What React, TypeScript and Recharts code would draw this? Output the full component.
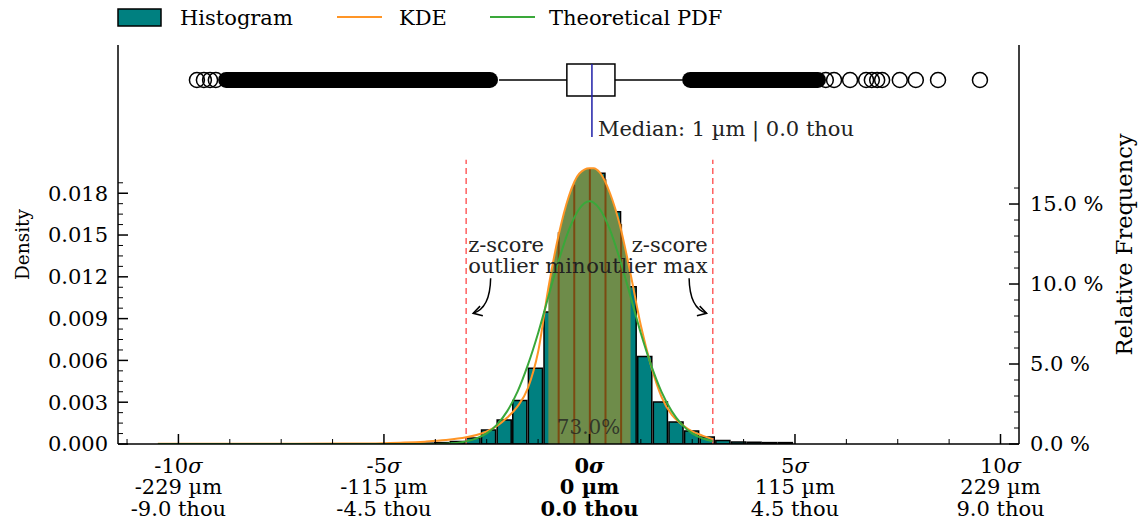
import React from "react";
import {
  ComposedChart,
  Bar,
  Line,
  Area,
  Scatter,
  XAxis,
  YAxis,
  Label,
  ReferenceLine,
  ReferenceArea,
  ReferenceDot,
} from "recharts";

const FONT = '"DejaVu Serif", "Liberation Serif", serif';

// x values are in units of sigma (1 sigma = 22.9 µm)
const binCenters = [
  -4.36, -3.98, -3.6, -3.22, -2.84, -2.46, -2.08, -1.7, -1.32, -0.94, -0.56, -0.18,
  0.2, 0.58, 0.96, 1.34, 1.72, 2.1, 2.48, 2.86, 3.24, 3.62, 4.0, 4.38, 4.76,
];
const binDensity = [
  0.00004, 0.00006, 0.0001, 0.00018, 0.00043, 0.001, 0.00172, 0.00312, 0.00543, 0.00947,
  0.01476, 0.01871, 0.01943, 0.01667, 0.01129, 0.00628, 0.00301, 0.00158, 0.00093, 0.0005,
  0.00025, 0.00014, 0.00012, 0.0001, 0.0001,
];
const binWidthSigma = 0.38;

const curveZ = [
  -10.5, -9, -7.5, -6, -5, -4.5, -4, -3.5, -3, -2.75, -2.5, -2.25, -2, -1.75, -1.5, -1.25,
  -1, -0.75, -0.5, -0.25, 0, 0.1, 0.25, 0.5, 0.75, 1, 1.25, 1.5, 1.75, 2, 2.25, 2.5, 2.75, 3,
];
const kdeDensity = [
  0.00001, 0.00001, 0.00002, 0.00003, 0.00006, 0.0001, 0.00017, 0.00028, 0.00048, 0.00065,
  0.0009, 0.0013, 0.0019, 0.0027, 0.004, 0.0066, 0.0112, 0.015, 0.0178, 0.0194, 0.0198,
  0.0198, 0.0195, 0.018, 0.0156, 0.0122, 0.0085, 0.0056, 0.0034, 0.0021, 0.0014, 0.0009,
  0.0006, 0.00035,
];
const pdfDensity = [
  0, 0, 0, 0, 0, 0, 0.000002, 0.00002, 0.00019, 0.0004, 0.00076, 0.00139, 0.00236, 0.00376,
  0.00566, 0.00795, 0.01057, 0.01315, 0.01537, 0.01687, 0.01742, 0.01733, 0.01687, 0.01537,
  0.01315, 0.01057, 0.00795, 0.00566, 0.00376, 0.00236, 0.00139, 0.00076, 0.0004, 0.00019,
];

// bin edges inside +-1 sigma and where they meet the KDE
const shadeEdgeZ = [-0.75, -0.37, 0.01, 0.39, 0.77];
const shadeEdgeTop = [0.0152, 0.0186, 0.0198, 0.019, 0.0158];
const shadeRange = [-1, 1];
const shadeLabel = "73.0%";

const zScoreLimits = [-3, 3];

// box plot, sigma units
const boxQ1 = -0.55;
const boxQ3 = 0.62;
const medianZ = 0.06;
const whiskerLow = -2.2;
const whiskerHigh = 2.27;
const denseLow = [-8.84, -2.42];
const denseHigh = [2.45, 5.56];
const sparseOutliers = [
  -9.55, -9.38, -9.23, -9.09, 5.75, 5.95, 6.34, 6.73, 6.87, 7.0, 7.12, 7.55, 7.94, 8.48, 9.5,
];
const medianLabel = "Median: 1 µm | 0.0 thou";

const sigmaTicks = [-10, -5, 0, 5, 10];
const micronLabels = ["-229 µm", "-115 µm", "0 µm", "115 µm", "229 µm"];
const thouLabels = ["-9.0 thou", "-4.5 thou", "0.0 thou", "4.5 thou", "9.0 thou"];
const sigmaMinor = [-11.25, -8.75, -7.5, -6.25, -3.75, -2.5, -1.25, 1.25, 2.5, 3.75, 6.25, 7.5, 8.75];

const densityTicks = [0, 0.003, 0.006, 0.009, 0.012, 0.015, 0.018];
const densityMinor = [
  0.00075, 0.0015, 0.00225, 0.00375, 0.0045, 0.00525, 0.00675, 0.0075, 0.00825, 0.00975,
  0.0105, 0.01125, 0.01275, 0.0135, 0.01425, 0.01575, 0.0165, 0.01725, 0.01875,
];
const freqTicks = [0, 5, 10, 15];
const freqMinor = [1, 2, 3, 4, 6, 7, 8, 9, 11, 12, 13, 14, 16];

const X_DOMAIN: [number, number] = [-11.47, 10.45];
const DENSITY_MAX = 0.02864;
const FREQ_MAX = 24.94;

const W = 1142;
const H = 524;
const PLOT_LEFT = 118;
const PLOT_RIGHT = 1019;
const PLOT_TOP = 45;
const PLOT_BOTTOM = 444;

const boxRow = 0.02613;
const boxHalf = 0.00115;
const medianLineBottom = 0.02204;
const limitTop = 0.0204;

const TEAL = "#008080";
const ORANGE = "#ff9526";
const GREEN = "#3aa83a";
const FS = 21;

const binData = binCenters.map((z, i) => ({ z, density: binDensity[i] }));
const curveData = curveZ.map((z, i) => ({ z, kde: kdeDensity[i], pdf: pdfDensity[i] }));
const shadeData = curveData.filter((d) => d.z >= shadeRange[0] && d.z <= shadeRange[1]);
const sparseData = sparseOutliers.map((z) => ({ z, y: boxRow }));
const denseLowData = denseLow.map((z) => ({ z, y: boxRow }));
const denseHighData = denseHigh.map((z) => ({ z, y: boxRow }));

const pxPerSigma = (PLOT_RIGHT - PLOT_LEFT) / (X_DOMAIN[1] - X_DOMAIN[0]);

const near = (list: number[], v: number) => list.findIndex((t) => Math.abs(t - v) < 1e-9);

function SigmaTick({ x, y, payload }: any) {
  const v = payload.value as number;
  const i = near(sigmaTicks, v);
  const major = i >= 0;
  return (
    <g>
      <line x1={x} x2={x} y1={y} y2={y - (major ? 10 : 5)} stroke="#000" strokeWidth={major ? 1.5 : 1} />
      {major && (
        <text
          textAnchor="middle"
          fontFamily={FONT}
          fontSize={FS}
          fill="#000"
          fontWeight={v === 0 ? "bold" : "normal"}
        >
          <tspan x={x} y={y + 29}>
            {v}
            <tspan fontStyle="italic">σ</tspan>
          </tspan>
          <tspan x={x} y={y + 50}>
            {micronLabels[i]}
          </tspan>
          <tspan x={x} y={y + 72}>
            {thouLabels[i]}
          </tspan>
        </text>
      )}
    </g>
  );
}

function DensityTick({ x, y, payload }: any) {
  const v = payload.value as number;
  const major = near(densityTicks, v) >= 0;
  return (
    <g>
      <line x1={x} x2={x + (major ? 10 : 5)} y1={y} y2={y} stroke="#000" strokeWidth={major ? 1.5 : 1} />
      {major && (
        <text x={x - 10} y={y} dy="0.35em" textAnchor="end" fontFamily={FONT} fontSize={FS} fill="#000">
          {v.toFixed(3)}
        </text>
      )}
    </g>
  );
}

function FreqTick({ x, y, payload }: any) {
  const v = payload.value as number;
  const major = near(freqTicks, v) >= 0;
  return (
    <g>
      <line x1={x} x2={x - (major ? 10 : 5)} y1={y} y2={y} stroke="#000" strokeWidth={major ? 1.5 : 1} />
      {major && (
        <text x={x + 11} y={y} dy="0.35em" textAnchor="start" fontFamily={FONT} fontSize={FS} fill="#000">
          {`${v.toFixed(1)} %`}
        </text>
      )}
    </g>
  );
}

function AxisTitle({ viewBox, text, dx, size }: any) {
  const cx = viewBox.x + dx;
  const cy = viewBox.y + viewBox.height / 2;
  return (
    <text
      x={cx}
      y={cy}
      transform={`rotate(-90 ${cx} ${cy})`}
      textAnchor="middle"
      dominantBaseline="central"
      fontFamily={FONT}
      fontSize={size}
      fill="#000"
    >
      {text}
    </text>
  );
}

function Annotation({ cx, cy, side }: any) {
  const s = side === "min" ? 1 : -1;
  const sx = cx + s * 17.5;
  const sy = cy - 35;
  const lines = ["z-score", `outlier ${side}`];
  return (
    <g>
      <path d={`M${sx},${sy} Q${sx - s * 0.5},${cy - 5} ${cx},${cy}`} fill="none" stroke="#000" strokeWidth={1.5} />
      <path
        d={`M${cx + s * 9.7},${cy + 2.4} L${cx},${cy} L${cx + s * 6.9},${cy - 7.2}`}
        fill="none"
        stroke="#000"
        strokeWidth={1.5}
      />
      <text fontFamily={FONT} fontSize={FS} fill="#222" textAnchor={side === "min" ? "start" : "end"}>
        {lines.map((t, k) => (
          <tspan key={t} x={cx + (side === "min" ? -5 : 1)} y={cy - 61 + k * 21}>
            {t}
          </tspan>
        ))}
      </text>
    </g>
  );
}

function Legend() {
  const items = [
    { name: "KDE", color: ORANGE, x: 337, tx: 399 },
    { name: "Theoretical PDF", color: GREEN, x: 490, tx: 549 },
  ];
  return (
    <svg width={W} height={40} style={{ position: "absolute", left: 0, top: 0 }}>
      <rect x={118} y={9} width={43} height={17} fill={TEAL} stroke="#000" strokeWidth={1.5} />
      <text x={180} y={24.5} fontFamily={FONT} fontSize={FS} fill="#000">
        Histogram
      </text>
      {items.map((it) => (
        <g key={it.name}>
          <line x1={it.x} x2={it.x + 45} y1={17} y2={17} stroke={it.color} strokeWidth={2} />
          <text x={it.tx} y={24.5} fontFamily={FONT} fontSize={FS} fill="#000">
            {it.name}
          </text>
        </g>
      ))}
    </svg>
  );
}

export default function App() {
  return (
    <div style={{ position: "absolute", left: 0, top: 0, width: W, height: H, background: "#fff" }}>
      <ComposedChart
        width={W}
        height={H}
        data={binData}
        margin={{ top: PLOT_TOP, right: 0, bottom: 0, left: 0 }}
        barCategoryGap={0}
        barGap={0}
        style={{ fontFamily: FONT }}
      >
        <XAxis
          xAxisId="main"
          type="number"
          dataKey="z"
          domain={X_DOMAIN}
          allowDataOverflow
          ticks={[...sigmaTicks, ...sigmaMinor].sort((a, b) => a - b)}
          interval={0}
          tickLine={false}
          tickSize={0}
          tickMargin={0}
          height={H - PLOT_BOTTOM}
          axisLine={{ stroke: "#000", strokeWidth: 1.5 }}
          tick={<SigmaTick />}
        />
        <XAxis xAxisId="bins" type="number" dataKey="z" domain={X_DOMAIN} allowDataOverflow height={0} hide />
        <XAxis
          xAxisId="top"
          orientation="top"
          type="number"
          dataKey="z"
          domain={X_DOMAIN}
          allowDataOverflow
          height={0}
          tick={false}
          tickLine={false}
          axisLine={{ stroke: "#000", strokeWidth: 1.5 }}
        />
        <YAxis
          yAxisId="d"
          type="number"
          domain={[0, DENSITY_MAX]}
          allowDataOverflow
          ticks={[...densityTicks, ...densityMinor].sort((a, b) => a - b)}
          interval={0}
          width={PLOT_LEFT}
          tickLine={false}
          tickSize={0}
          tickMargin={0}
          axisLine={{ stroke: "#000", strokeWidth: 1.5 }}
          tick={<DensityTick />}
        >
          <Label content={(p: any) => <AxisTitle viewBox={p.viewBox} text="Density" dx={22} size={18.5} />} />
        </YAxis>
        <YAxis
          yAxisId="r"
          orientation="right"
          type="number"
          domain={[0, FREQ_MAX]}
          allowDataOverflow
          ticks={[...freqTicks, ...freqMinor].sort((a, b) => a - b)}
          interval={0}
          width={W - PLOT_RIGHT}
          tickLine={false}
          tickSize={0}
          tickMargin={0}
          axisLine={{ stroke: "#000", strokeWidth: 1.5 }}
          tick={<FreqTick />}
        >
          <Label
            content={(p: any) => <AxisTitle viewBox={p.viewBox} text="Relative Frequency" dx={105} size={22.5} />}
          />
        </YAxis>

        <Bar
          xAxisId="bins"
          yAxisId="d"
          dataKey="density"
          fill={TEAL}
          stroke="#000"
          strokeWidth={1.5}
          barSize={binWidthSigma * pxPerSigma}
          isAnimationActive={false}
        />
        <Area
          xAxisId="main"
          yAxisId="d"
          data={shadeData}
          dataKey="kde"
          type="monotone"
          fill="#6e8c4a"
          fillOpacity={1}
          stroke="none"
          zIndex={350}
          isAnimationActive={false}
        />
        {shadeEdgeZ.map((z, i) => (
          <ReferenceLine
            key={`edge-${z}`}
            xAxisId="main"
            yAxisId="d"
            segment={[
              { x: z, y: 0 },
              { x: z, y: shadeEdgeTop[i] },
            ]}
            stroke="#7b4a12"
            strokeWidth={2}
            zIndex={360}
          />
        ))}
        {zScoreLimits.map((z) => (
          <ReferenceLine
            key={`lim-${z}`}
            xAxisId="main"
            yAxisId="d"
            segment={[
              { x: z, y: 0 },
              { x: z, y: limitTop },
            ]}
            stroke="#ff6060"
            strokeWidth={1.5}
            strokeDasharray="6 4"
            zIndex={360}
          />
        ))}
        <Line
          xAxisId="main"
          yAxisId="d"
          data={curveData}
          dataKey="kde"
          type="monotone"
          stroke={ORANGE}
          strokeWidth={2}
          dot={false}
          zIndex={400}
          isAnimationActive={false}
        />
        <Line
          xAxisId="main"
          yAxisId="d"
          data={curveData}
          dataKey="pdf"
          type="monotone"
          stroke={GREEN}
          strokeWidth={2}
          dot={false}
          zIndex={410}
          isAnimationActive={false}
        />

        {/* box plot */}
        <ReferenceLine
          xAxisId="main"
          yAxisId="d"
          segment={[
            { x: whiskerLow, y: boxRow },
            { x: boxQ1, y: boxRow },
          ]}
          stroke="#000"
          strokeWidth={1.5}
        />
        <ReferenceLine
          xAxisId="main"
          yAxisId="d"
          segment={[
            { x: boxQ3, y: boxRow },
            { x: whiskerHigh, y: boxRow },
          ]}
          stroke="#000"
          strokeWidth={1.5}
        />
        <ReferenceArea
          xAxisId="main"
          yAxisId="d"
          x1={boxQ1}
          x2={boxQ3}
          y1={boxRow - boxHalf}
          y2={boxRow + boxHalf}
          fill="#fff"
          fillOpacity={1}
          stroke="#000"
          strokeWidth={1.5}
        />
        <ReferenceLine
          xAxisId="main"
          yAxisId="d"
          segment={[
            { x: medianZ, y: medianLineBottom },
            { x: medianZ, y: boxRow + boxHalf },
          ]}
          stroke="#1f1fa8"
          strokeWidth={1.5}
          zIndex={700}
        />
        <Line
          xAxisId="main"
          yAxisId="d"
          data={denseLowData}
          dataKey="y"
          stroke="#000"
          strokeWidth={16}
          strokeLinecap="round"
          dot={false}
          isAnimationActive={false}
        />
        <Line
          xAxisId="main"
          yAxisId="d"
          data={denseHighData}
          dataKey="y"
          stroke="#000"
          strokeWidth={16}
          strokeLinecap="round"
          dot={false}
          isAnimationActive={false}
        />
        <Scatter
          xAxisId="main"
          yAxisId="d"
          data={sparseData}
          dataKey="y"
          isAnimationActive={false}
          shape={(p: any) => (
            <circle cx={p.cx} cy={p.cy} r={7.5} fill="none" stroke="#000" strokeWidth={1.5} />
          )}
        />

        {/* text annotations */}
        <ReferenceDot
          xAxisId="main"
          yAxisId="d"
          x={medianZ}
          y={medianLineBottom}
          r={1}
          zIndex={2000}
          shape={(p: any) => (
            <text x={p.cx + 6} y={p.cy - 1} fontFamily={FONT} fontSize={FS} fill="#222">
              {medianLabel}
            </text>
          )}
        />
        <ReferenceDot
          xAxisId="main"
          yAxisId="d"
          x={0}
          y={0.00072}
          r={1}
          zIndex={2000}
          shape={(p: any) => (
            <text x={p.cx - 1} y={p.cy} textAnchor="middle" fontFamily={FONT} fontSize={20} fill="#222" fillOpacity={0.8}>
              {shadeLabel}
            </text>
          )}
        />
        <ReferenceDot
          xAxisId="main"
          yAxisId="d"
          x={-2.83}
          y={0.00938}
          r={1}
          zIndex={2000}
          shape={(p: any) => <Annotation cx={p.cx} cy={p.cy} side="min" />}
        />
        <ReferenceDot
          xAxisId="main"
          yAxisId="d"
          x={2.85}
          y={0.00938}
          r={1}
          zIndex={2000}
          shape={(p: any) => <Annotation cx={p.cx} cy={p.cy} side="max" />}
        />
      </ComposedChart>
      <Legend />
    </div>
  );
}
